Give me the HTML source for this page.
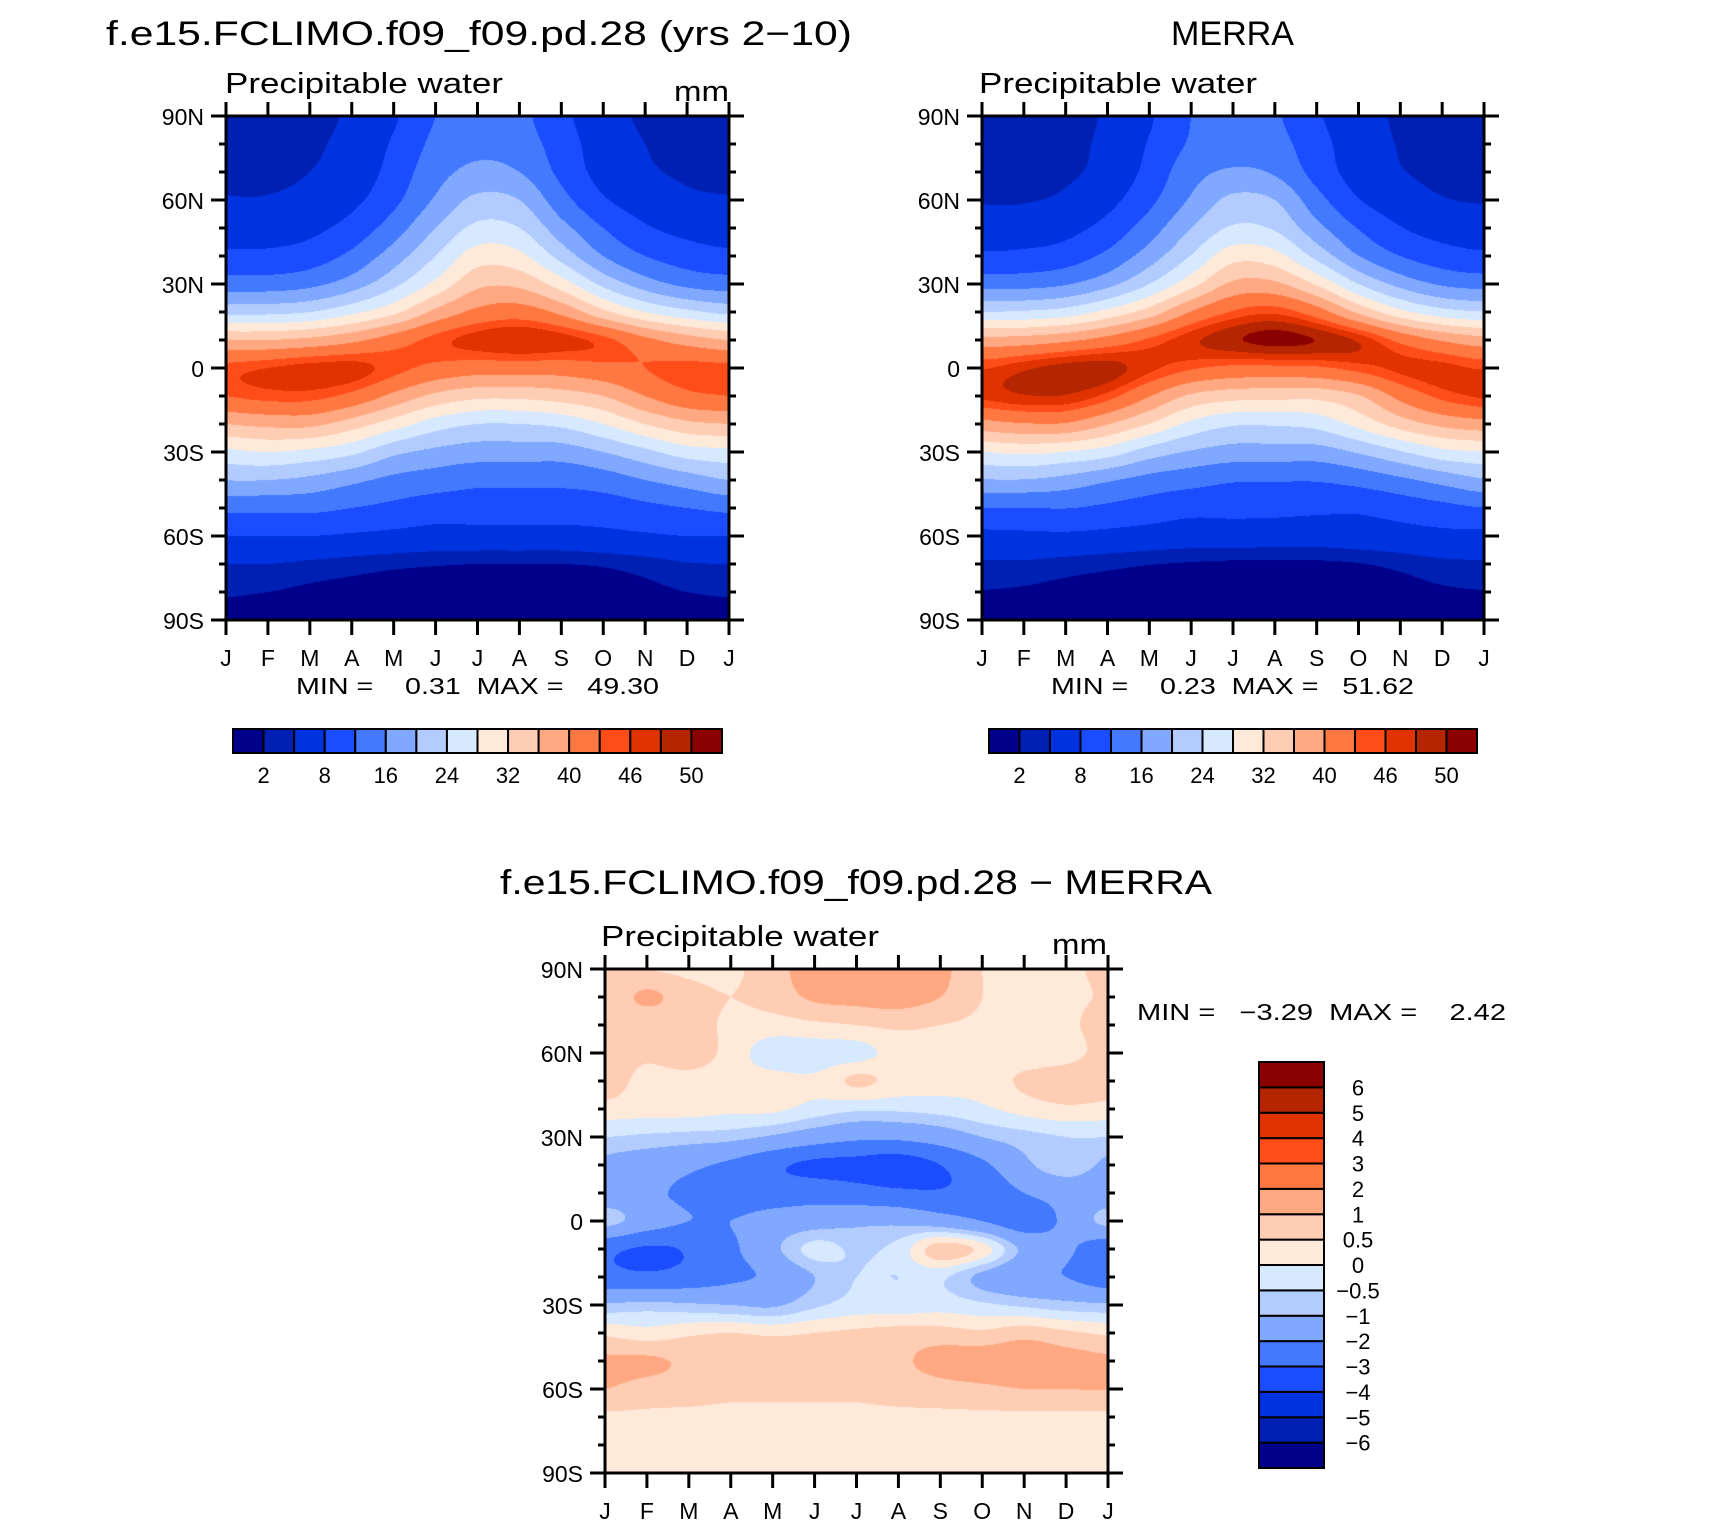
<!DOCTYPE html>
<html><head><meta charset="utf-8">
<style>
html,body{margin:0;padding:0;background:#fff;}
#wrap{position:relative;width:1710px;height:1526px;overflow:hidden;background:#fff;}
canvas{position:absolute;}
svg{position:absolute;left:0;top:0;}
text{font-family:"Liberation Sans",sans-serif;fill:#000;}
</style></head>
<body>
<div id="wrap">
<canvas id="c1"></canvas>
<canvas id="c2"></canvas>
<canvas id="c3"></canvas>
<svg id="s" width="1710" height="1526">
<text x="106" y="45" font-size="34" textLength="746" lengthAdjust="spacingAndGlyphs">f.e15.FCLIMO.f09_f09.pd.28 (yrs 2−10)</text>
<text x="1171" y="45" font-size="34" textLength="123" lengthAdjust="spacingAndGlyphs">MERRA</text>
<text x="225" y="93" font-size="29" textLength="278" lengthAdjust="spacingAndGlyphs">Precipitable water</text>
<text x="674" y="101" font-size="29" textLength="55" lengthAdjust="spacingAndGlyphs">mm</text>
<text x="979" y="93" font-size="29" textLength="278" lengthAdjust="spacingAndGlyphs">Precipitable water</text>
<text x="296" y="694" font-size="23" textLength="363" lengthAdjust="spacingAndGlyphs" xml:space="preserve">MIN =    0.31  MAX =   49.30</text>
<text x="1051" y="694" font-size="23" textLength="363" lengthAdjust="spacingAndGlyphs" xml:space="preserve">MIN =    0.23  MAX =   51.62</text>
<text x="500" y="894" font-size="34" textLength="712" lengthAdjust="spacingAndGlyphs">f.e15.FCLIMO.f09_f09.pd.28 − MERRA</text>
<text x="601" y="946" font-size="29" textLength="278" lengthAdjust="spacingAndGlyphs">Precipitable water</text>
<text x="1052" y="954" font-size="29" textLength="55" lengthAdjust="spacingAndGlyphs">mm</text>
<text x="1137" y="1020" font-size="23" textLength="369" lengthAdjust="spacingAndGlyphs" xml:space="preserve">MIN =   −3.29  MAX =    2.42</text>
</svg>
</div>
<script>
const months = ["J","F","M","A","M","J","J","A","S","O","N","D","J"];
const latTicks = [90,60,30,0,-30,-60,-90];
const latTickLabels = ["90N","60N","30N","0","30S","60S","90S"];
const gridLats = [90,80,70,60,50,40,30,20,10,0,-10,-20,-30,-40,-50,-60,-70,-80,-90];
const absLevels = [2,4,8,12,16,20,24,28,32,36,40,44,46,48,50];
const absLabels = ["2","","8","","16","","24","","32","","40","","46","","50"];
const diffLevels = [-6,-5,-4,-3,-2,-1,-0.5,0,0.5,1,2,3,4,5,6];
const diffLabels = ["−6","−5","−4","−3","−2","−1","−0.5","0","0.5","1","2","3","4","5","6"];
const palette = ['#00008a','#0020b4','#0033e0','#1a4dff','#4279ff','#80a8ff','#b3ccff','#d6e9ff','#ffe9d9','#ffcdb3','#ffa882','#ff7842','#ff4d1a','#e03300','#b52500','#8b0000'];
// model field: rows = gridLats, columns = Jan..Dec
const modelPW = [
[3,3,3.3,4.5,7.5,12,14,13,9,5.5,3.5,3],
[3.2,3.2,3.6,5,8.5,13,15,14,10,6,4,3.2],
[3.5,3.5,4,5.5,9.5,14.5,17,16,11,6.5,4.5,3.6],
[4.2,4.2,5,7,11,16.5,21,20,13.5,8.5,6,4.6],
[6,6,7,9.5,14,20,25,24,17.5,12,8.5,6.8],
[9,9,10,13,18,24,30,29,22.5,16,12,10],
[14,14,15,18,23,29,35,35,30,23,18,15],
[23,23,24,27,31,37,41,42,39,33,28,25],
[36,36,37,39,42,45,47,48,47,45,41,38],
[45,46,47,47,45,43,42,42,42,43,44,45],
[44,45,45,43,39,35,33,33,34,36,40,43],
[36,37,37,34,30,26,24,24,25,28,32,35],
[27,28,27,25,21,19,18,18,18,20,23,26],
[20,20,19,17,15,14,13,13,13,14,16,18],
[13,13,13,12,11,10,10,10,10,10,11,12],
[8,8,8,7.5,7,6.5,6.5,6.5,6.5,7,7.5,8],
[4,4,3.5,3,2.5,2.2,2,2,2,2.3,3,3.8],
[2.2,2,1.6,1.3,1.1,1,1,1,1,1.1,1.5,2],
[1.5,1.3,1.1,0.9,0.7,0.6,0.6,0.6,0.6,0.7,1,1.4]];
const merraPW = [
[2.2,2.2,2.8,4.5,7.5,12,13.5,12.5,8.5,5.5,3.5,2.4],
[2.6,2.5,3.2,4.8,8.3,12.5,14.5,13.5,9.5,5.8,3.8,2.8],
[3,3,3.5,5.2,9.2,14.5,16.5,15.5,10.5,6.2,4.2,3.2],
[3.8,3.8,4.6,6.8,11,16.5,21,20,13.5,8.2,5.8,4.2],
[5.6,5.8,6.8,9.4,14,20,24.5,23.5,17.3,11.8,8.2,6.4],
[8.8,9,10,13,18,24.2,30.4,29.4,22.8,16.1,12,9.8],
[14.5,14.6,15.7,18.8,24,30.5,36.8,36.8,31.5,24,18.7,15.5],
[24.2,24.5,25.8,29.2,33.8,40.2,44.3,45.5,42,35.2,29.2,25.6],
[37.5,37.8,39.2,41.5,44.5,47.4,49.6,50.8,49.9,47.6,43,39.6],
[45.8,47.5,49,49,46.6,44.4,43.2,43.2,43.5,45,46.5,46.8],
[46.5,47.8,47.8,45.2,40.2,35.3,33.6,33.3,33.2,35.7,41.2,44.8],
[38.5,39.7,39.6,36.2,31.8,27,24.5,24.5,25.4,29.2,33.8,37],
[27.9,28.8,27.9,26,22.1,19.6,18.3,18.3,18.2,20.4,23.6,26.8],
[19.6,19.8,18.6,16.5,14.6,13.5,12.4,12.3,12.3,13.4,15.2,17.4],
[11.9,11.9,12.1,11.2,10.2,9.2,9.2,9.1,8.8,8.7,9.7,10.8],
[7,7.2,7.3,6.9,6.4,5.9,5.9,5.8,5.7,6.1,6.5,7],
[3.6,3.6,3.1,2.6,2.1,1.8,1.6,1.6,1.6,1.9,2.6,3.4],
[1.9,1.7,1.3,1,0.8,0.7,0.7,0.7,0.7,0.8,1.2,1.7],
[1.2,1,0.8,0.6,0.4,0.3,0.3,0.3,0.3,0.4,0.7,1.1]];
const diffPW = [
[0.6,0.5,0.4,0.4,0.8,1.3,1.5,1.8,1.2,0.5,0.3,0.4],
[0.6,1.1,0.7,0.5,0.7,1.1,1.2,1.3,1.0,0.5,0.3,0.4],
[0.7,0.6,0.7,0.4,0.3,0.4,0.5,0.6,0.5,0.4,0.3,0.4],
[0.7,0.6,0.8,0.3,-0.3,-0.3,-0.2,0.2,0.3,0.3,0.2,0.3],
[0.8,0.3,0.3,0.2,0.2,0.1,0.6,0.3,0.2,0.2,0.6,0.8],
[0.3,0.2,0.2,0.1,0.1,-0.2,-0.4,-0.4,-0.3,-0.1,0.2,0.4],
[-0.5,-0.6,-0.7,-0.8,-1.1,-1.5,-1.8,-1.8,-1.5,-1,-0.7,-0.5],
[-1.2,-1.5,-1.8,-2.2,-2.8,-3.2,-3.3,-3.5,-3,-2.2,-1.2,-0.6],
[-1.5,-1.8,-2.2,-2.5,-2.5,-2.4,-2.6,-2.8,-2.9,-2.6,-2.0,-1.6],
[-0.8,-1.5,-2,-2,-1.6,-1.4,-1.2,-1.2,-1.5,-2,-2.5,-1.8],
[-2.7,-3.1,-2.9,-2.2,-1.2,-0.3,-0.6,-0.3,0.8,0.3,-1.2,-1.8],
[-2.6,-2.8,-2.6,-2.2,-1.8,-1.0,-0.5,-0.5,-0.4,-1.2,-1.8,-2.0],
[-0.9,-0.8,-0.9,-1,-1.1,-0.6,-0.3,-0.3,-0.2,-0.4,-0.6,-0.8],
[0.4,0.2,0.4,0.5,0.4,0.5,0.6,0.7,0.7,0.6,0.8,0.6],
[1.1,1.1,0.9,0.8,0.8,0.8,0.8,0.9,1.2,1.3,1.3,1.2],
[1.0,0.8,0.7,0.6,0.6,0.6,0.6,0.7,0.8,0.9,1.0,1.0],
[0.4,0.4,0.4,0.4,0.4,0.4,0.4,0.4,0.4,0.4,0.4,0.4],
[0.3,0.3,0.3,0.3,0.3,0.3,0.3,0.3,0.3,0.3,0.3,0.3],
[0.3,0.3,0.3,0.3,0.3,0.3,0.3,0.3,0.3,0.3,0.3,0.3]];

const NS = "http://www.w3.org/2000/svg";
const svg = document.getElementById('s');
function mk(tag, attrs){const e=document.createElementNS(NS,tag);for(const k in attrs)e.setAttribute(k,attrs[k]);svg.appendChild(e);return e;}
function hex(c){return [parseInt(c.slice(1,3),16),parseInt(c.slice(3,5),16),parseInt(c.slice(5,7),16)];}
const rgb = palette.map(hex);
function levelIndex(v, lev){let i=0;while(i<lev.length && v>=lev[i])i++;return i;}
function cr(p0,p1,p2,p3,t){return 0.5*((2*p1)+(-p0+p2)*t+(2*p0-5*p1+4*p2-p3)*t*t+(-p0+3*p1-3*p2+p3)*t*t*t);}
function sample(grid, m, r){
  const nr=grid.length;
  const mi=Math.floor(m), mt=m-mi, ri=Math.min(Math.floor(r),nr-2), rt=r-ri;
  const col=k=>((k%12)+12)%12;
  const rowv=j=>{const jj=Math.max(0,Math.min(nr-1,j));const row=grid[jj];
    return cr(row[col(mi-1)],row[col(mi)],row[col(mi+1)],row[col(mi+2)],mt);};
  return cr(rowv(ri-1),rowv(ri),rowv(ri+1),rowv(ri+2),rt);
}
function drawField(id, grid, lev, x0,y0,x1,y1){
  const c=document.getElementById(id);const w=x1-x0,h=y1-y0;
  c.width=w;c.height=h;c.style.left=x0+'px';c.style.top=y0+'px';
  const ctx=c.getContext('2d');const img=ctx.createImageData(w,h);
  const latStep=(gridLats[0]-gridLats[gridLats.length-1])/(gridLats.length-1);
  for(let py=0;py<h;py++){
    const lat=90-(py+0.5)/h*180;const r=(gridLats[0]-lat)/latStep;
    for(let px=0;px<w;px++){
      const m=(px+0.5)/w*12;const v=sample(grid,m,r);
      const col=rgb[levelIndex(v,lev)];const o=(py*w+px)*4;
      img.data[o]=col[0];img.data[o+1]=col[1];img.data[o+2]=col[2];img.data[o+3]=255;
    }
  }
  ctx.putImageData(img,0,0);
}
function drawAxes(prefix,x0,y0,x1,y1){
  const w=x1-x0,h=y1-y0;
  const xm=i=>x0+i*w/12, yl=lat=>y0+(90-lat)/180*h;
  for(let lat=90;lat>=-90;lat-=10){
    const major=lat%30===0;const L=major?15:7;const y=yl(lat);
    const t1=mk('line',{x1:x0-L,y1:y,x2:x0,y2:y,stroke:'#000','stroke-width':3});
    
    
    const t2=mk('line',{x1:x1,y1:y,x2:x1+L,y2:y,stroke:'#000','stroke-width':3});
    
    
  }
  latTicks.forEach((lat,i)=>{
    const t=mk('text',{x:x0-22,y:yl(lat)+9,'font-size':23,'text-anchor':'end'});
    t.textContent=latTickLabels[i];
    
    
  });
  months.forEach((mo,i)=>{
    const x=xm(i);
    const a=mk('line',{x1:x,y1:y0-14,x2:x,y2:y0,stroke:'#000','stroke-width':3});
    
    
    const b=mk('line',{x1:x,y1:y1,x2:x,y2:y1+15,stroke:'#000','stroke-width':3});
    
    
    const t=mk('text',{x:x,y:y1+46,'font-size':23,'text-anchor':'middle'});
    t.textContent=mo;
    
    
  });
  const f=mk('rect',{x:x0,y:y0,width:w,height:h,fill:'none',stroke:'#000','stroke-width':3});
  
  
}
function hbar(prefix,x0,y0,x1,y1){
  const n=palette.length,bw=(x1-x0)/n;
  palette.forEach((c,i)=>{
    const r=mk('rect',{x:x0+i*bw,y:y0,width:bw,height:y1-y0,fill:c,stroke:'#000','stroke-width':2});
    
    
  });
  absLabels.forEach((s,i)=>{
    if(!s)return;
    const t=mk('text',{x:x0+(i+1)*bw,y:y1+30,'font-size':22,'text-anchor':'middle'});
    t.textContent=s;
    
    
  });
}
function vbar(prefix,x0,y0,x1,y1){
  const n=palette.length,bh=(y1-y0)/n;
  palette.forEach((c,i)=>{
    const r=mk('rect',{x:x0,y:y1-(i+1)*bh,width:x1-x0,height:bh,fill:c,stroke:'#000','stroke-width':2});
    
    
  });
  diffLabels.forEach((s,i)=>{
    const t=mk('text',{x:x1+34,y:y1-(i+1)*bh+8,'font-size':22,'text-anchor':'middle'});
    t.textContent=s;
    
    
  });
}
drawField('c1',modelPW,absLevels,226,116,729,620);
drawField('c2',merraPW,absLevels,982,116,1484,620);
drawField('c3',diffPW,diffLevels,605,969,1108,1473);
drawAxes('model',226,116,729,620);
drawAxes('merra',982,116,1484,620);
drawAxes('difference',605,969,1108,1473);
hbar('model',233,729,722,753);
hbar('merra',989,729,1477,753);
vbar('difference',1259,1062,1324,1468);
</script>
</body></html>
